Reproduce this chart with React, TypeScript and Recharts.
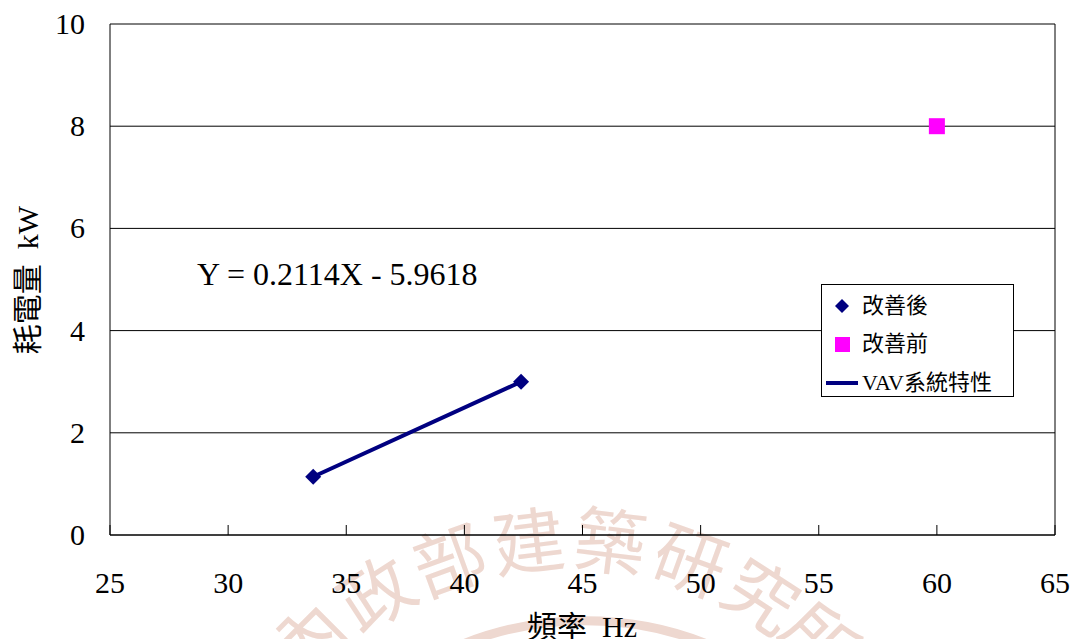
import React from 'react';
import {
  ScatterChart,
  Scatter,
  XAxis,
  YAxis,
  CartesianGrid,
  ReferenceLine,
  Legend,
  Customized,
} from 'recharts';

// ---- data ----
const afterX = [33.6, 42.4];
const afterY = [1.14, 3.0];
const beforeX = [60];
const beforeY = [8];
const vavX = [33.6, 42.4];
const vavY = [1.14, 3.0];
const xTicks = [25, 30, 35, 40, 45, 50, 55, 60, 65];
const yTicks = [0, 2, 4, 6, 8, 10];
const seriesNames = ['改善後', '改善前', 'VAV系統特性'];
const equationText = 'Y = 0.2114X - 5.9618';
const xLabel = '頻率\u00a0\u00a0Hz';
const yLabel = '耗電量\u00a0\u00a0kW';
const watermarkChars = ['內', '政', '部', '建', '築', '研', '究', '所'];

const afterData = afterX.map((x, i) => ({ x, y: afterY[i] }));
const beforeData = beforeX.map((x, i) => ({ x, y: beforeY[i] }));
const vavData = vavX.map((x, i) => ({ x, y: vavY[i] }));

const FONT = "'Liberation Serif', 'Times New Roman', 'Noto Sans CJK TC', serif";
const NAVY = '#000080';
const MAGENTA = '#ff00ff';
const WM = '#eed8d0';

const Diamond = (props: any) => {
  const { cx, cy } = props;
  const r = 8;
  return (
    <polygon
      points={`${cx},${cy - r} ${cx + r},${cy} ${cx},${cy + r} ${cx - r},${cy}`}
      fill={NAVY}
    />
  );
};

const Square = (props: any) => {
  const { cx, cy } = props;
  const s = 16;
  return <rect x={cx - s / 2} y={cy - s / 2} width={s} height={s} fill={MAGENTA} />;
};

const NoShape = () => <g />;

const XTick = (props: any) => {
  const { x, y, payload } = props;
  return (
    <g>
      <line x1={x} x2={x} y1={y} y2={y - 10} stroke="#000" strokeWidth={1} />
      <text x={x} y={y + 58} textAnchor="middle" fontSize={30} fontFamily={FONT} fill="#000">
        {payload.value}
      </text>
    </g>
  );
};

const YTick = (props: any) => {
  const { x, y, payload } = props;
  return (
    <text x={x} y={y} dy={10} textAnchor="end" fontSize={30} fontFamily={FONT} fill="#000">
      {payload.value}
    </text>
  );
};

const LegendBox = () => {
  const rowY = [22, 60, 99];
  const textStyle: React.CSSProperties = {
    position: 'absolute',
    left: 40,
    height: 30,
    lineHeight: '30px',
    fontSize: 22,
    fontFamily: FONT,
    color: '#000',
    whiteSpace: 'nowrap',
  };
  return (
    <div
      style={{
        position: 'relative',
        width: 193,
        height: 113,
        boxSizing: 'border-box',
        border: '1px solid #000',
        background: '#fff',
      }}
    >
      <svg width={193} height={113} style={{ position: 'absolute', left: -1, top: -1 }}>
        <polygon points={`21,${rowY[0] - 7} 28,${rowY[0]} 21,${rowY[0] + 7} 14,${rowY[0]}`} fill={NAVY} />
        <rect x={14} y={rowY[1] - 7} width={15} height={15} fill={MAGENTA} />
        <line x1={5} x2={37} y1={rowY[2]} y2={rowY[2]} stroke={NAVY} strokeWidth={4} />
      </svg>
      {seriesNames.map((n, i) => (
        <div key={n} style={{ ...textStyle, top: rowY[i] - 16 }}>
          {n}
        </div>
      ))}
    </div>
  );
};

const Texts = () => (
  <g>
    <text x={197} y={285} fontSize={32} fontFamily={FONT} fill="#000">
      {equationText}
    </text>
    <text x={582} y={637} textAnchor="middle" fontSize={30} fontFamily={FONT} fill="#000">
      {xLabel}
    </text>
    <text
      x={38}
      y={280}
      textAnchor="middle"
      fontSize={30}
      fontFamily={FONT}
      fill="#000"
      transform="rotate(-90 38 280)"
    >
      {yLabel}
    </text>
  </g>
);

const wmPos = [
  { x: 305, y: 636, r: -45 },
  { x: 374, y: 590, r: -33 },
  { x: 448, y: 556, r: -20 },
  { x: 528, y: 537, r: -7 },
  { x: 611, y: 537, r: 7 },
  { x: 692, y: 556, r: 20 },
  { x: 764, y: 592, r: 33 },
  { x: 824, y: 637, r: 45 },
];

const Watermark = () => (
  <svg width={1074} height={639} style={{ position: 'absolute', left: 0, top: 0 }}>
    {watermarkChars.map((c, i) => (
      <text
        key={c}
        x={wmPos[i].x}
        y={wmPos[i].y}
        textAnchor="middle"
        dominantBaseline="central"
        fontSize={72}
        fontFamily="'Noto Sans CJK TC', sans-serif"
        fontWeight={400}
        fill={WM}
        transform={`rotate(${wmPos[i].r} ${wmPos[i].x} ${wmPos[i].y})`}
      >
        {c}
      </text>
    ))}
    <path d="M 420 665 A 330 330 0 0 1 750 665" fill="none" stroke={WM} strokeWidth={9} />
  </svg>
);

export default function App() {
  return (
    <div style={{ position: 'absolute', left: 0, top: 0, width: 1074, height: 639, background: '#fff', overflow: 'hidden' }}>
      <Watermark />
      <div style={{ position: 'absolute', left: 0, top: 0 }}>
        <ScatterChart width={1074} height={639} margin={{ top: 24, right: 19, left: 0, bottom: 0 }}>
          <CartesianGrid horizontal vertical={false} stroke="#000" strokeWidth={1} />
          <XAxis
            type="number"
            dataKey="x"
            domain={[25, 65]}
            ticks={xTicks}
            interval={0}
            height={104}
            tickSize={0}
            tickMargin={0}
            tickLine={false}
            axisLine={{ stroke: '#000', strokeWidth: 1 }}
            tick={<XTick />}
            allowDataOverflow
          />
          <YAxis
            type="number"
            dataKey="y"
            domain={[0, 10]}
            ticks={yTicks}
            interval={0}
            width={110}
            tickSize={0}
            tickMargin={25}
            tickLine={false}
            axisLine={{ stroke: '#000', strokeWidth: 1 }}
            tick={<YTick />}
            allowDataOverflow
          />
          <ReferenceLine x={65} stroke="#000" strokeWidth={1} />
          <Scatter
            name={seriesNames[2]}
            data={vavData}
            line={{ stroke: NAVY, strokeWidth: 4 }}
            shape={<NoShape />}
            fill={NAVY}
            isAnimationActive={false}
          />
          <Scatter name={seriesNames[0]} data={afterData} shape={<Diamond />} fill={NAVY} isAnimationActive={false} />
          <Scatter name={seriesNames[1]} data={beforeData} shape={<Square />} fill={MAGENTA} isAnimationActive={false} />
          <Legend
            layout="horizontal"
            verticalAlign="middle"
            align="center"
            content={<LegendBox />}
            wrapperStyle={{ left: 821, top: 284, width: 193, height: 113 }}
          />
          <Customized component={<Texts />} />
        </ScatterChart>
      </div>
    </div>
  );
}
